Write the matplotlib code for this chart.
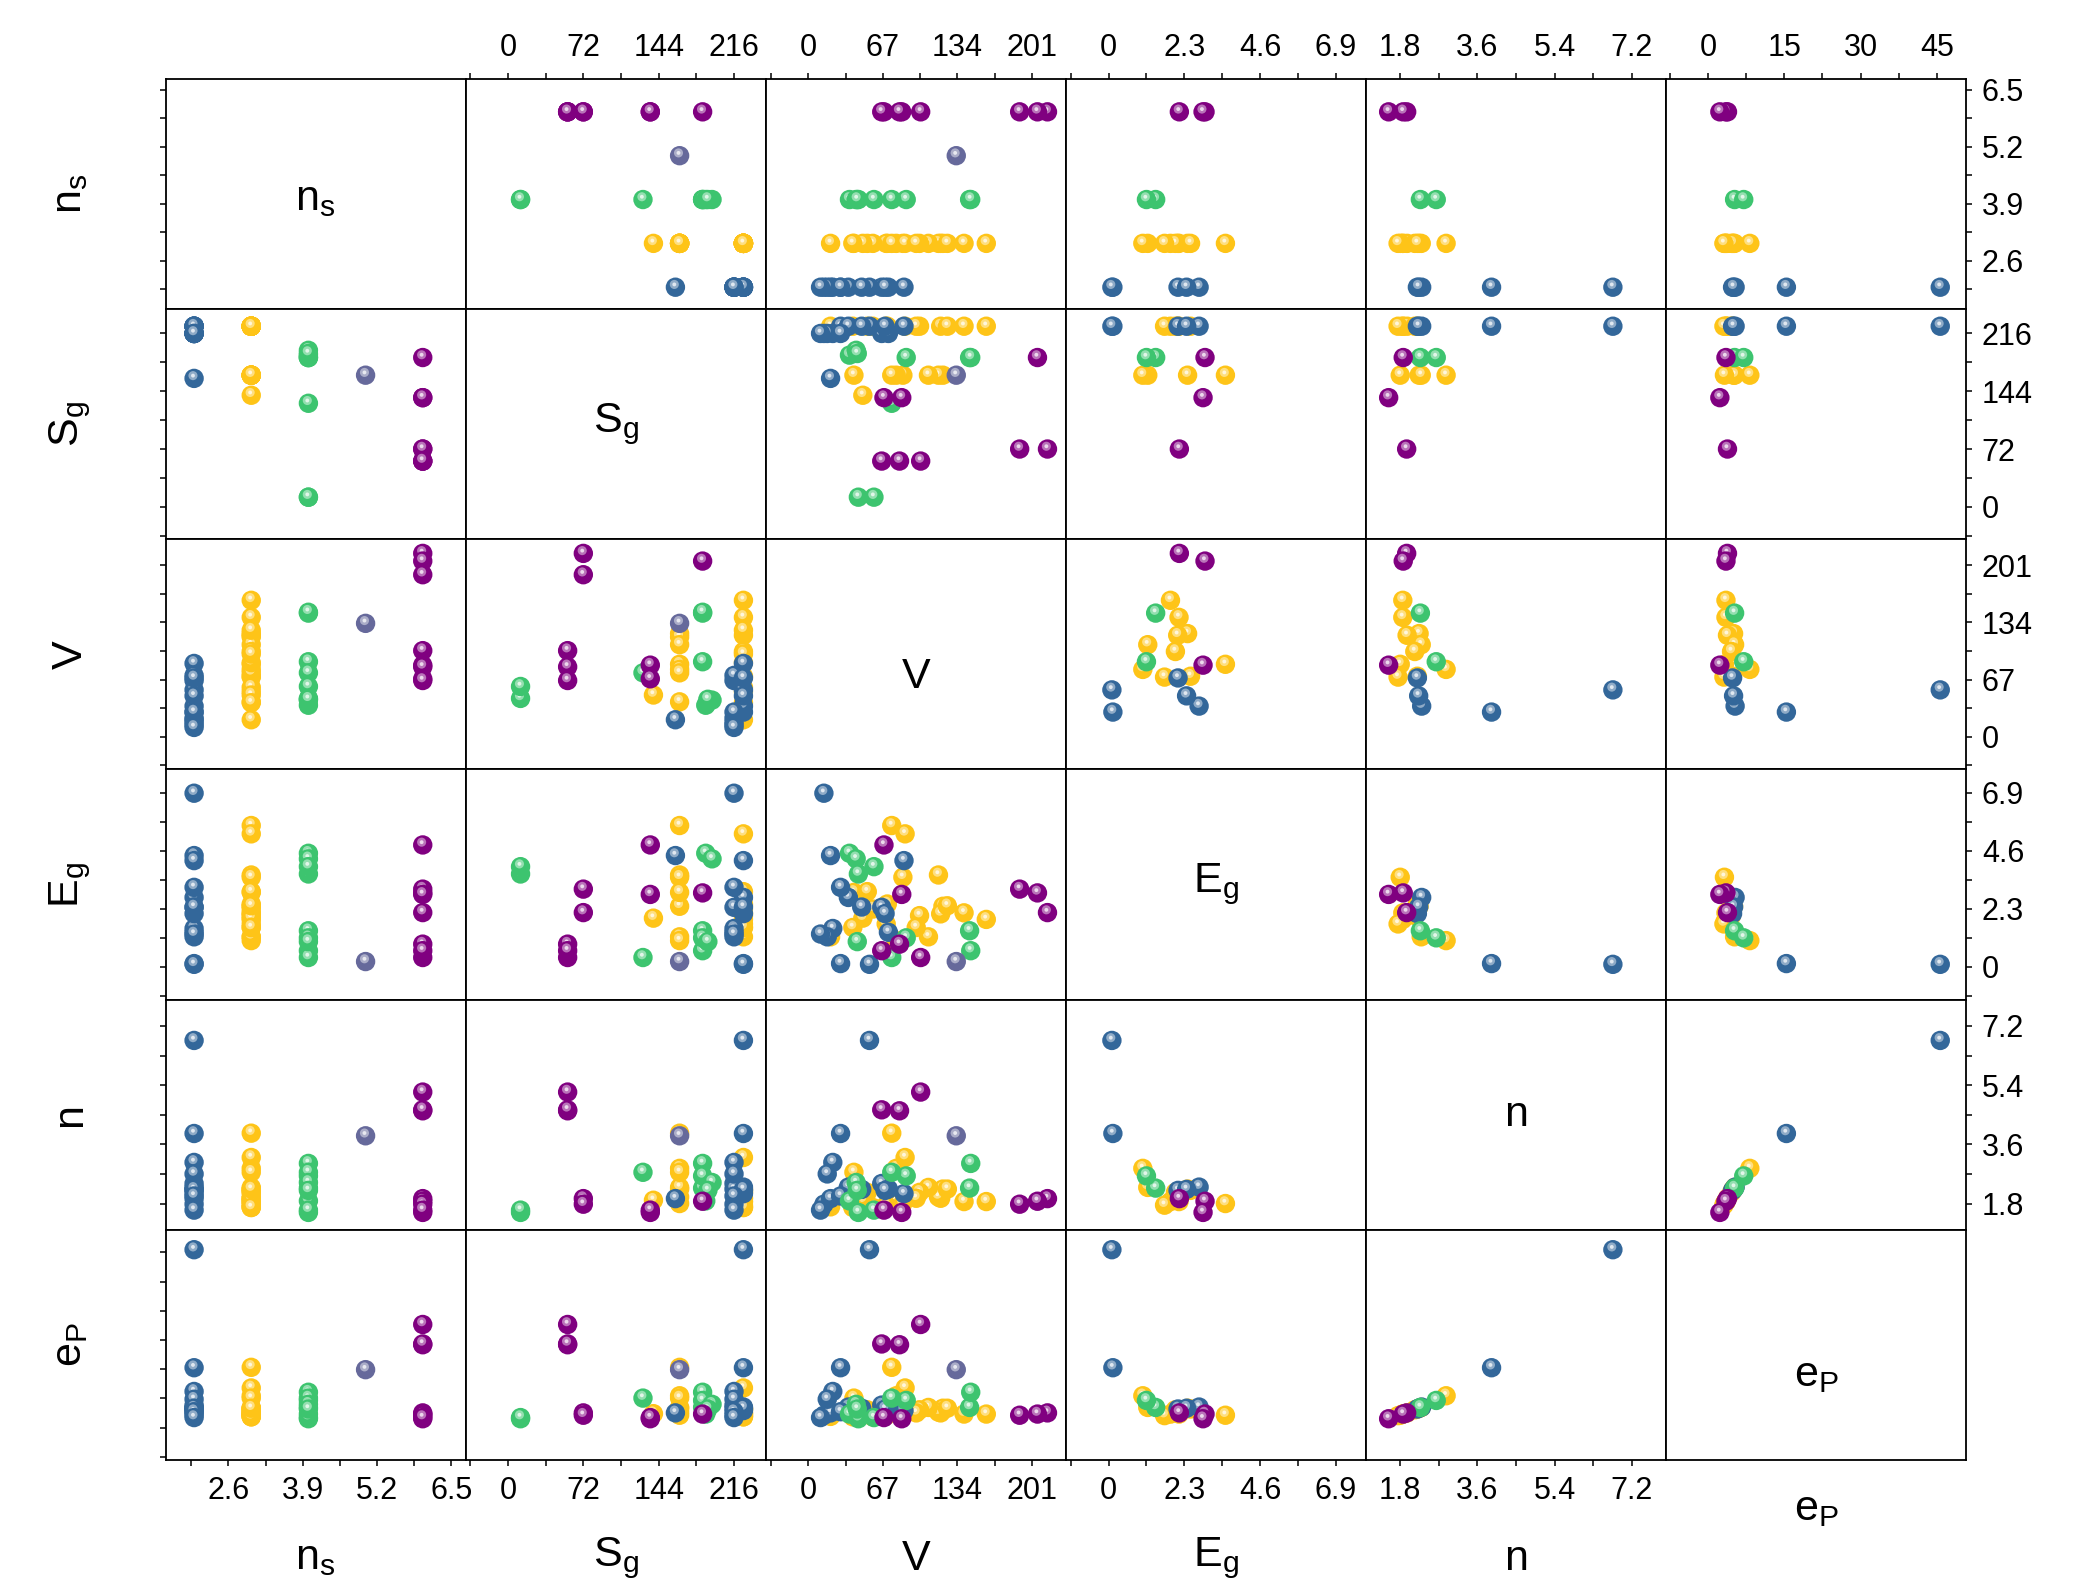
import numpy as np
import matplotlib
matplotlib.use('Agg')
import matplotlib.pyplot as plt
from matplotlib.transforms import ScaledTranslation
from matplotlib.ticker import FuncFormatter
from matplotlib.colors import to_rgb

plt.rcParams['font.family'] = ['Liberation Sans', 'DejaVu Sans']
plt.rcParams['mathtext.fontset'] = 'custom'
plt.rcParams['mathtext.rm'] = 'Liberation Sans'
plt.rcParams['mathtext.it'] = 'Liberation Sans:italic'

# records: ns, Sg, V, Eg, n, eP, core (1 = shown in the Eg/n/eP columns)
ns_vals = [3, 3, 3, 3, 3, 3, 3, 3, 3, 3, 3, 3, 3, 3, 3, 3, 3, 3, 3, 3, 3,
           2, 2, 2, 2, 2, 2, 2, 2, 2, 2, 2, 2, 2, 2,
           4, 4, 4, 4, 4, 4, 4, 4, 4,
           5,
           6, 6, 6, 6, 6, 6, 6, 6]
sg_vals = [225, 225, 164, 225, 164, 164, 225, 164, 164, 225, 225, 164, 225, 164, 225, 225, 139, 225, 225, 225, 225,
           216, 160, 225, 225, 225, 216, 216, 216, 216, 225, 225, 225, 216, 216,
           186, 186, 186, 129, 189, 195, 12, 12, 191,
           164,
           72, 186, 72, 136, 136, 57, 57, 57]
v_vals = [160, 140, 121, 119, 117, 108, 100, 85, 79, 71, 70, 75, 87, 41, 53, 58, 49, 20, 97, 40, 125,
          14, 20, 86, 29, 36, 66, 72, 22, 17, 55, 69, 48, 29, 11,
          145, 146, 88, 75, 37, 43, 45, 59, 44,
          133,
          215, 206, 190, 84, 68, 101, 82, 66]
eg_vals = [1.88, 2.14, 2.40, 2.10, 3.64, 1.19, 2.03, 3.55, 1.04, 2.49, 1.70, 5.60, 5.27, 2.95, 2.98, 2.29, 1.93, 1.19, 1.56, 1.56, 2.42,
           6.88, 4.41, 4.21, 0.13, 2.75, 2.36, 1.37, 1.52, 1.19, 0.10, 2.11, 2.37, 3.15, 1.30,
           1.43, 0.64, 1.15, 0.37, 4.50, 4.28, 3.68, 3.97, 1.00,
           0.21,
           2.15, 2.93, 3.08, 2.87, 4.83, 0.37, 0.90, 0.64]
n_vals = [1.86, 1.86, 2.24, 1.96, 2.00, 2.29, 2.14, 1.80, 2.87, 2.20, 1.75, 3.94, 3.20, 2.75, 2.14, 1.68, 1.90, 1.70, 1.96, 1.68, 2.24,
          1.78, 1.95, 2.10, 3.93, 2.30, 2.41, 2.24, 3.05, 2.70, 6.76, 2.20, 2.23, 2.03, 1.60,
          2.27, 3.02, 2.64, 2.75, 1.88, 2.44, 1.53, 1.60, 2.20,
          3.86,
          1.95, 1.87, 1.78, 1.53, 1.60, 5.19, 4.62, 4.65]
ep_vals = [3.5, 3.5, 5.0, 3.8, 4.0, 5.2, 4.6, 3.2, 8.2, 4.8, 3.1, 15.5, 10.2, 7.6, 4.6, 2.8, 3.6, 2.9, 3.8, 2.8, 5.0,
           3.2, 3.8, 4.4, 15.4, 5.3, 5.8, 5.0, 9.3, 7.3, 45.7, 4.8, 5.0, 4.1, 2.6,
           5.2, 9.1, 7.0, 7.6, 3.5, 6.0, 2.3, 2.6, 4.8,
           14.9,
           3.8, 3.5, 3.2, 2.3, 2.6, 26.5, 21.3, 21.5]
core = [1, 1, 1, 1, 0, 1, 1, 1, 1, 1, 1, 0, 0, 0, 0, 0, 0, 0, 0, 0, 0,
        0, 0, 0, 1, 1, 0, 0, 0, 0, 1, 1, 1, 0, 0,
        1, 0, 1, 0, 0, 0, 0, 0, 0,
        0,
        1, 1, 0, 1, 0, 0, 0, 0]

labels = [r'$\mathregular{n_s}$', r'$\mathregular{S_g}$', 'V',
          r'$\mathregular{E_g}$', 'n', r'$\mathregular{e_P}$']
limits = [(1.5, 6.75), (-40.5, 246.3), (-38.3, 231.5), (-1.3, 7.82), (1.0, 8.0), (-8.3, 50.8)]
major_ticks = [[2.6, 3.9, 5.2, 6.5], [0, 72, 144, 216], [0, 67, 134, 201],
               [0, 2.3, 4.6, 6.9], [1.8, 3.6, 5.4, 7.2], [0, 15, 30, 45]]
minor_ticks = [[1.95, 3.25, 4.55, 5.85], [-36, 36, 108, 180], [-33.5, 33.5, 100.5, 167.5],
               [-1.15, 1.15, 3.45, 5.75], [2.7, 4.5, 6.3], [-7.5, 7.5, 22.5, 37.5]]
class_colors = {2: '#33679a', 3: '#fec418', 4: '#3dc46f', 5: '#66699b', 6: '#800080'}
# vertical place of the name inside each diagonal panel
diag_y = [0.48, 0.5, 0.40, 0.5, 0.5, 0.37]

data = [np.array(ns_vals, float), np.array(sg_vals, float), np.array(v_vals, float),
        np.array(eg_vals, float), np.array(n_vals, float), np.array(ep_vals, float)]
core = np.array(core, bool)
cols = [class_colors[k] for k in ns_vals]


def lighten(c, f):
    r, g, b = to_rgb(c)
    return (r + (1 - r) * f, g + (1 - g) * f, b + (1 - b) * f)


fig = plt.figure(figsize=(20.74, 15.92), dpi=100)
axes = fig.subplots(6, 6, gridspec_kw=dict(left=0.0798, right=0.948, top=0.9504,
                                           bottom=0.0829, wspace=0, hspace=0))
S = 195
off = ScaledTranslation(-0.8 / 72, 2.0 / 72, fig.dpi_scale_trans)
fmt = FuncFormatter(lambda v, p: '%g' % v)

for i in range(6):
    for j in range(6):
        ax = axes[i, j]
        ax.set_xlim(limits[j])
        ax.set_ylim(limits[i])
        for sp in ax.spines.values():
            sp.set_linewidth(1.3)
        if i == j:
            ax.text(0.5, diag_y[i], labels[i], transform=ax.transAxes, ha='center',
                    va='center', fontsize=31)
        else:
            x = data[j]
            y = data[i]
            keep = np.ones(len(x), bool)
            if j >= 3:
                keep = core
            z = 3
            for k in np.where(keep)[0]:
                ax.scatter(x[k], y[k], s=S, color=cols[k], edgecolors='none', zorder=z)
                ax.scatter(x[k], y[k], s=S * 0.22, color=lighten(cols[k], 0.45),
                           edgecolors='none', zorder=z + 0.001, transform=ax.transData + off)
                ax.scatter(x[k], y[k], s=S * 0.04, color=lighten(cols[k], 0.85),
                           edgecolors='none', zorder=z + 0.002, transform=ax.transData + off)
                z += 0.01
        ax.set_xticks(major_ticks[j])
        ax.set_xticks(minor_ticks[j], minor=True)
        ax.set_yticks(major_ticks[i])
        ax.set_yticks(minor_ticks[i], minor=True)
        ax.xaxis.set_major_formatter(fmt)
        ax.yaxis.set_major_formatter(fmt)
        ax.tick_params(which='both', direction='out', length=4.3, width=1.1,
                       top=(i == 0 and j > 0), labeltop=(i == 0 and j > 0),
                       bottom=(i == 5 and j < 5), labelbottom=(i == 5 and j < 5),
                       left=(j == 0), labelleft=False,
                       right=(j == 5 and i < 5), labelright=(j == 5 and i < 5),
                       labelsize=22, pad=7)

for k in range(6):
    y = 0.9504 - (k + 0.5) * (0.9504 - 0.0829) / 6
    fig.text(0.034, y, labels[k], rotation=90, ha='center', va='center', fontsize=31)
    x = 0.0798 + (k + 0.5) * (0.948 - 0.0798) / 6
    fig.text(x, 0.052 if k == 5 else 0.021, labels[k], ha='center', va='center', fontsize=31)

fig.savefig('out.png', dpi=100)
